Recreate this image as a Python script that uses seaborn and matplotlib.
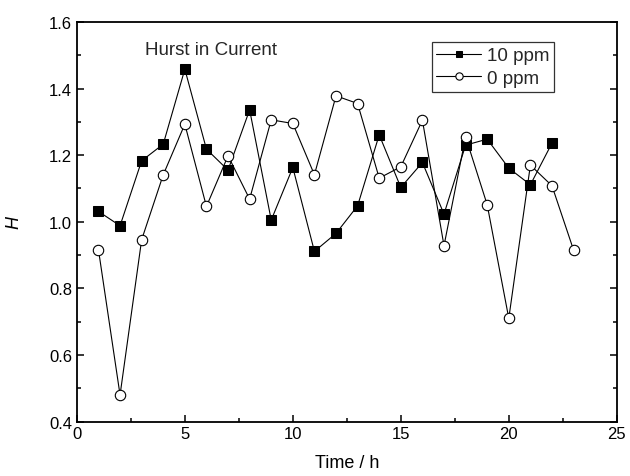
import numpy as np
import pandas as pd
import matplotlib
matplotlib.use("Agg")
import matplotlib.pyplot as plt
from matplotlib.ticker import MultipleLocator
import seaborn as sns

# values
hours_10 = list(range(1, 23))
h_10ppm = [1.031, 0.988, 1.183, 1.233, 1.458, 1.218, 1.155, 1.336, 1.005, 1.163, 0.911,
           0.965, 1.048, 1.261, 1.103, 1.178, 1.023, 1.230, 1.248, 1.161, 1.111, 1.236]

hours_0 = list(range(1, 24))
h_0ppm = [0.916, 0.480, 0.946, 1.141, 1.293, 1.046, 1.198, 1.068, 1.306, 1.295, 1.141, 1.378,
          1.355, 1.131, 1.165, 1.305, 0.928, 1.255, 1.051, 0.710, 1.170, 1.108, 0.915]

sns.set_style("ticks")
plt.rcParams['font.family'] = ['Liberation Sans', 'DejaVu Sans']

fig = plt.figure(figsize=(6.3, 4.77), dpi=100)
ax = fig.add_axes([0.122, 0.114, 0.857, 0.838])

df10 = pd.DataFrame({'t': hours_10, 'H': h_10ppm})
df0 = pd.DataFrame({'t': hours_0, 'H': h_0ppm})

sns.lineplot(data=df10, x='t', y='H', ax=ax, color='black', lw=0.8, marker='s',
             markersize=6.5, mfc='black', mec='black', label='10 ppm')
sns.lineplot(data=df0, x='t', y='H', ax=ax, color='black', lw=0.8, marker='o',
             markersize=7.5, mfc='white', mec='black', mew=0.8, label='0 ppm')

ax.set_xlim(0, 25)
ax.set_ylim(0.4, 1.6)
ax.xaxis.set_major_locator(MultipleLocator(5))
ax.xaxis.set_minor_locator(MultipleLocator(2.5))
ax.yaxis.set_major_locator(MultipleLocator(0.2))
ax.yaxis.set_minor_locator(MultipleLocator(0.1))
ax.yaxis.set_major_formatter(matplotlib.ticker.FormatStrFormatter('%.1f'))

ax.tick_params(which='both', direction='in', top=False, right=True, labelsize=12,
               width=1.1, color='black', labelcolor='black')
ax.tick_params(which='major', length=5)
ax.tick_params(which='minor', length=3)
for s in ax.spines.values():
    s.set_linewidth(1.3)
    s.set_color('black')
    s.set_visible(True)

ax.set_xlabel('Time / h', fontsize=13, color='black', labelpad=9)
ax.set_ylabel('H', fontsize=13, style='italic', color='black', labelpad=19)

ax.text(6.2, 1.516, 'Hurst in Current', fontsize=13.5, ha='center', va='center')

leg = ax.legend(loc='upper left', bbox_to_anchor=(0.657, 0.9485), fontsize=13.5,
                frameon=True, fancybox=False, edgecolor='black', handlelength=2.4,
                handletextpad=0.3, borderpad=0.25, labelspacing=0.3, borderaxespad=0,
                markerscale=0.7)
leg.get_frame().set_linewidth(0.9)

fig.savefig('out.png', dpi=100, facecolor='white')
